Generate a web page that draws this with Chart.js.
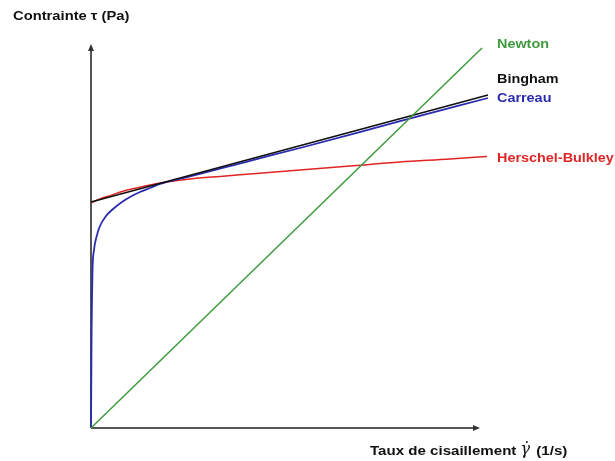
<!DOCTYPE html>
<html>
<head>
<meta charset="utf-8">
<script src="https://cdn.jsdelivr.net/npm/chart.js@4.4.0/dist/chart.umd.min.js"></script>
<style>
  html, body { margin: 0; padding: 0; background: #ffffff; }
  canvas { display: block; }
</style>
</head>
<body>
<canvas id="rheoChart" width="615" height="461"></canvas>
<script>
// Curves (arbitrary units, shear rate -> stress)
let newton_x = [0, 97.75];
let newton_y = [0, 95];

let bingham_x = [0, 99.25];
let bingham_y = [56.5, 83.25];

let carreau_x = [0, 0.075, 0.15, 0.25, 0.375, 0.75, 1.5, 2.25, 3.75, 5.5, 7.75, 9.75, 12.25, 14.75, 17.25, 21, 24.75, 39.75, 52.25, 77.25, 99.25];
let carreau_y = [0, 12, 24.5, 32, 39.5, 44.5, 48.25, 50.5, 53, 54.75, 56.5, 57.75, 59, 60, 61, 62, 62.9, 66.8, 70, 76.7, 82.5];

let herschel_x = [0, 2.25, 4.75, 9, 13.5, 17.25, 24.75, 32.25, 39.75, 52.25, 64.75, 77.25, 89.75, 99];
let herschel_y = [56.25, 57.25, 58.1, 59.5, 60.5, 61.25, 62.25, 62.9, 63.5, 64.5, 65.5, 66.5, 67.25, 67.9];

// Curve names and where their labels sit
let curve_names = ["Newton", "Bingham", "Carreau", "Herschel-Bulkley"];
let label_x = [101.5, 101.5, 101.5, 101.5];
let label_y = [95.75, 87, 82.25, 67.25];

// Axis titles and axis ends
let y_title = "Contrainte \u03c4 (Pa)";
let x_title_parts = ["Taux de cisaillement ", "\u03b3\u0307", " (1/s)"];
let x_axis_end = 97.25;
let y_axis_end = 96;

let colors = ["#3d9a3d", "#111111", "#2b2bb0", "#e02525"];

function toPoints(xs, ys) {
  return xs.map((x, i) => ({ x: x, y: ys[i] }));
}

// Draws the arrowed axes before the curves
let axesPlugin = {
  id: "axesPlugin",
  beforeDatasetsDraw(chart) {
    let ctx = chart.ctx;
    let xs = chart.scales.x;
    let ys = chart.scales.y;
    let x0 = xs.getPixelForValue(0);
    let y0 = ys.getPixelForValue(0);
    let xEnd = xs.getPixelForValue(x_axis_end);
    let yEnd = ys.getPixelForValue(y_axis_end);

    ctx.save();
    ctx.strokeStyle = "#555555";
    ctx.fillStyle = "#333333";
    ctx.lineWidth = 2;

    ctx.beginPath();
    ctx.moveTo(x0, y0);
    ctx.lineTo(x0, yEnd + 4);
    ctx.moveTo(x0, y0);
    ctx.lineTo(xEnd - 4, y0);
    ctx.stroke();

    // arrow heads
    ctx.beginPath();
    ctx.moveTo(x0, yEnd);
    ctx.lineTo(x0 - 3, yEnd + 7);
    ctx.lineTo(x0 + 3, yEnd + 7);
    ctx.closePath();
    ctx.fill();

    ctx.beginPath();
    ctx.moveTo(xEnd, y0);
    ctx.lineTo(xEnd - 7, y0 - 3);
    ctx.lineTo(xEnd - 7, y0 + 3);
    ctx.closePath();
    ctx.fill();
    ctx.restore();
  },
};

function stretchedText(ctx, text, x, y, sx) {
  ctx.save();
  ctx.translate(x, y);
  ctx.scale(sx, 1);
  ctx.fillText(text, 0, 0);
  let w = ctx.measureText(text).width * sx;
  ctx.restore();
  return w;
}

// Curve labels and axis titles
let textPlugin = {
  id: "textPlugin",
  afterDatasetsDraw(chart) {
    let ctx = chart.ctx;
    let xs = chart.scales.x;
    let ys = chart.scales.y;

    ctx.save();
    ctx.textAlign = "left";
    ctx.textBaseline = "middle";
    ctx.font = "bold 12px 'Liberation Sans', Arial, sans-serif";
    curve_names.forEach((name, i) => {
      ctx.fillStyle = colors[i];
      stretchedText(ctx, name, xs.getPixelForValue(label_x[i]), ys.getPixelForValue(label_y[i]), 1.2);
    });

    ctx.fillStyle = "#111111";
    ctx.font = "bold 12.5px 'Liberation Sans', Arial, sans-serif";
    stretchedText(ctx, y_title, 13, 17, 1.18);

    let x = 370;
    let y = 451;
    ctx.font = "bold 13px 'Liberation Sans', Arial, sans-serif";
    x += stretchedText(ctx, x_title_parts[0], x, y, 1.16);
    ctx.font = "italic 16px 'DejaVu Serif', serif";
    x += stretchedText(ctx, x_title_parts[1], x, y - 1, 1);
    ctx.font = "bold 13px 'Liberation Sans', Arial, sans-serif";
    stretchedText(ctx, x_title_parts[2], x + 2, y, 1.16);
    ctx.restore();
  },
};

let ctx = document.getElementById("rheoChart").getContext("2d");

let rheoChart = new Chart(ctx, {
  type: "scatter",
  data: {
    datasets: [
      {
        label: curve_names[0],
        data: toPoints(newton_x, newton_y),
        borderColor: colors[0],
        borderWidth: 1.5,
      },
      {
        label: curve_names[1],
        data: toPoints(bingham_x, bingham_y),
        borderColor: colors[1],
        borderWidth: 1.8,
      },
      {
        label: curve_names[2],
        data: toPoints(carreau_x, carreau_y),
        borderColor: colors[2],
        borderWidth: 1.8,
        cubicInterpolationMode: "monotone",
      },
      {
        label: curve_names[3],
        data: toPoints(herschel_x, herschel_y),
        borderColor: colors[3],
        borderWidth: 1.5,
        cubicInterpolationMode: "monotone",
      },
    ],
  },
  options: {
    responsive: false,
    animation: false,
    showLine: true,
    clip: false,
    layout: {
      padding: { left: 91, right: 124, top: 28, bottom: 33 },
    },
    elements: {
      point: { radius: 0, hoverRadius: 0 },
      line: { fill: false },
    },
    plugins: {
      legend: { display: false },
      tooltip: { enabled: false },
    },
    scales: {
      x: { type: "linear", min: 0, max: 100, display: false },
      y: { type: "linear", min: 0, max: 100, display: false },
    },
  },
  plugins: [axesPlugin, textPlugin],
});
</script>
</body>
</html>
